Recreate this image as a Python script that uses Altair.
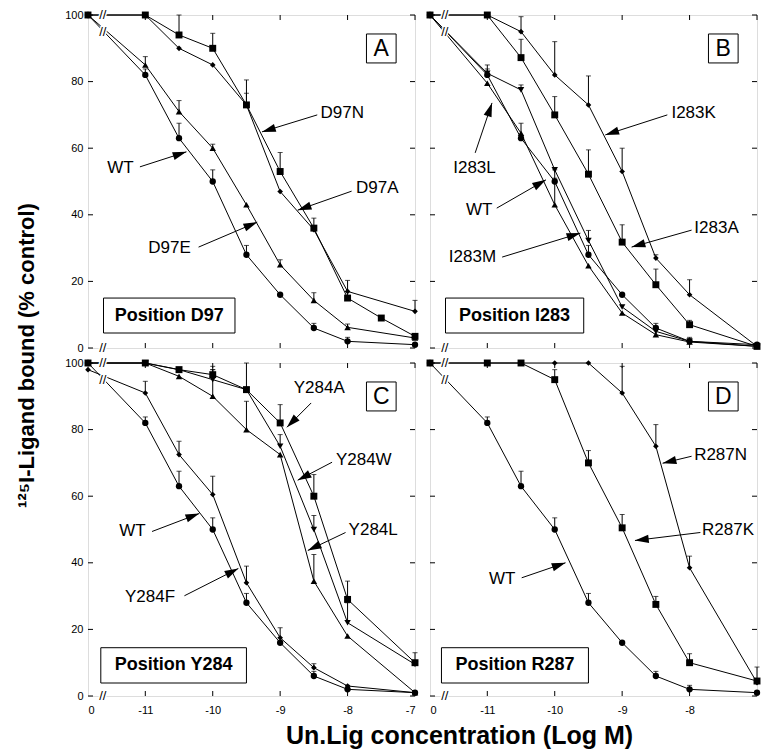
import math
import altair as alt
import pandas as pd

# ---------------- data ----------------
# log M of unlabeled ligand; 0 = control (no unlabeled ligand)
CONC = [0, -11, -10.5, -10, -9.5, -9, -8.5, -8, -7.5, -7]
X_TICKS = [-11, -10, -9, -8, -7]
Y_TICKS = [0, 20, 40, 60, 80, 100]

WT = [100, 82, 63, 50, 28, 16, 6, 2, None, 1]
WT_ERR = [0, 1.8, 4.5, 3.5, 2.8, 0, 1.4, 1.2, None, 0]

# Panel A: position D97
D97E = [100, 85, 71, 60, 43, 25, 14.3, 6.2, None, 3]
D97E_ERR = [0, 2.5, 3.3, 1.2, 0, 1.5, 2.3, 1, None, 0]
D97N = [100, 100, 94, 90, 73, 53, 36, 15, 9, 3.5]
D97N_ERR = [0, 0, 6, 4.5, 7.5, 5.7, 3, 5.3, 0, 0]
D97A = [100, 100, 90, 85, 73, 47, 35.5, 17, None, 11]
D97A_ERR = [0, 0, 0, 0, 3.5, 0, 0, 0, None, 3.3]

# Panel B: position I283
I283L = [100, 79.5, 64.5, 43, 24.7, 10.5, 4, 1.8, None, 0.5]
I283L_ERR = [0, 0, 0, 8, 0, 0, 0, 0, None, 0]
I283M = [100, 82.5, 77.5, 53.5, 32.3, 12.3, 5, 2, None, 0.5]
I283M_ERR = [0, 2.5, 1.5, 0, 3, 0, 0, 0.8, None, 0]
I283A = [100, 100, 87.2, 70, 52.2, 31.8, 19, 7, None, 0.5]
I283A_ERR = [0, 0, 5.5, 5.5, 7.3, 5.2, 4.7, 1.3, None, 0]
I283K = [100, 100, 95, 82, 73, 53, 27, 16, None, 0.5]
I283K_ERR = [0, 0, 4.5, 10, 8.7, 7, 1, 4.5, None, 0]

# Panel C: position Y284
Y284F = [98, 91, 72.5, 60.5, 34, 17.5, 8.5, 3, None, 1]
Y284F_ERR = [0, 3.5, 4, 5.5, 5, 3, 1.2, 0, None, 0]
Y284A = [100, 100, 98, 96.5, 92, 82, 60, 29, None, 10]
Y284A_ERR = [0, 0, 0, 2.5, 8, 5.5, 6.5, 5.5, None, 3]
Y284W = [100, 100, 98, 95, 92, 75, 50, 22, None, 9.5]
Y284W_ERR = [0, 0, 0, 3, 0, 3.5, 4.2, 6, None, 0]
Y284L = [100, 100, 96, 90, 80, 72.5, 34.5, 18, None, 1]
Y284L_ERR = [0, 0, 0, 8, 8.5, 0, 8, 0, None, 0]

# Panel D: position R287
R287K = [100, 100, 100, 95, 70, 50.5, 27.5, 10, None, 4.5]
R287K_ERR = [0, 0, 0, 3, 3.7, 4, 2.4, 2.7, None, 0]
R287N = [100, 100, 100, 100, 100, 91, 75, 38.5, None, 4]
R287N_ERR = [0, 0, 0, 0, 0, 8, 6.5, 3.5, None, 4.7]

PANEL_KEYS = ["A", "B", "C", "D"]
PANEL_NAMES = ["Position D97", "Position I283", "Position Y284", "Position R287"]

SERIES = {
    "A": [("WT", WT, WT_ERR, "circle"), ("D97E", D97E, D97E_ERR, "triangle-up"),
          ("D97N", D97N, D97N_ERR, "square"), ("D97A", D97A, D97A_ERR, "diamond")],
    "B": [("WT", WT, WT_ERR, "circle"), ("I283L", I283L, I283L_ERR, "triangle-up"),
          ("I283M", I283M, I283M_ERR, "triangle-down"), ("I283A", I283A, I283A_ERR, "square"),
          ("I283K", I283K, I283K_ERR, "diamond")],
    "C": [("WT", WT, WT_ERR, "circle"), ("Y284F", Y284F, Y284F_ERR, "diamond"),
          ("Y284A", Y284A, Y284A_ERR, "square"), ("Y284W", Y284W, Y284W_ERR, "triangle-down"),
          ("Y284L", Y284L, Y284L_ERR, "triangle-up")],
    "D": [("WT", WT, WT_ERR, "circle"), ("R287K", R287K, R287K_ERR, "square"),
          ("R287N", R287N, R287N_ERR, "diamond")],
}

# annotation labels: text, text x/y, arrow start x/y, arrow tip x/y (data units)
LABELS = {
    "A": [("D97N", -8.08, 70.6, -8.45, 70.0, -9.27, 64.9),
          ("D97A", -7.56, 48.0, -7.94, 47.1, -8.74, 41.4),
          ("WT", -11.37, 54.0, -11.08, 54.4, -10.39, 58.9),
          ("D97E", -10.64, 30.0, -10.21, 30.3, -9.34, 37.8)],
    "B": [("I283K", -7.94, 70.6, -8.33, 70.0, -9.25, 64.0),
          ("I283A", -7.60, 36.0, -7.97, 35.4, -8.86, 30.3),
          ("I283L", -11.19, 54.0, -11.18, 58.6, -10.93, 73.6),
          ("WT", -11.12, 41.4, -10.86, 42.0, -10.13, 50.5),
          ("I283M", -11.22, 27.3, -10.78, 27.3, -9.62, 34.5)],
    "C": [("Y284A", -8.42, 92.5, -8.54, 88.0, -8.90, 80.7),
          ("Y284W", -7.76, 70.8, -8.23, 70.2, -8.74, 64.8),
          ("Y284L", -7.62, 49.7, -8.03, 49.1, -8.59, 43.7),
          ("WT", -11.19, 49.4, -10.90, 49.4, -10.20, 54.8),
          ("Y284F", -10.93, 29.8, -10.42, 30.1, -9.62, 38.3)],
    "D": [("R287N", -7.54, 72.3, -7.97, 72.0, -8.40, 69.9),
          ("R287K", -7.43, 49.7, -7.84, 49.1, -8.81, 46.7),
          ("WT", -10.78, 35.2, -10.49, 35.5, -9.84, 40.0)],
}
# "Position ..." boxes: x1, x2, y1, y2 (data units)
POS_BOX = {"A": (-11.62, -9.67, 15.0, 4.5), "B": (-11.62, -9.57, 15.0, 4.5),
           "C": (-11.66, -9.50, 14.5, 3.9), "D": (-11.68, -9.50, 14.5, 3.9)}
LETTER_BOX = (-7.72, -7.28, 94.3, 85.6)

# ---------------- layout / style ----------------
CTRL_POS = -11.85        # where the control ("0") sits on the broken axis
BREAK_X = -11.63
W, H = 327, 333
PX = W / (-7 - CTRL_POS)
PY = H / 100.0
FONT = "Liberation Sans"
SIZES = {"circle": 40, "square": 48, "triangle-up": 42, "triangle-down": 42, "diamond": 32}
ARROW = "M0,0L-0.3,1L0.3,1Z"

xs = alt.Scale(domain=[CTRL_POS, -7], nice=False, zero=False)
ys = alt.Scale(domain=[0, 100], nice=False, zero=False)


def panel(key, bottom, left):
    rows = []
    for name, vals, errs, shp in SERIES[key]:
        for c, v, e in zip(CONC, vals, errs):
            if v is None:
                continue
            rows.append({"series": name, "x": CTRL_POS if c == 0 else c, "y": v,
                         "err": e, "ytop": v + e, "shape": shp, "size": SIZES[shp]})
    df = pd.DataFrame(rows)
    edf = df[df.err > 0]

    if bottom:
        xvals = [CTRL_POS] + (X_TICKS if left else X_TICKS[:-1])
        xaxis = alt.Axis(values=xvals,
                         labelExpr="datum.value < -11.5 ? '0' : '-' + abs(datum.value)",
                         ticks=False, domain=False, grid=False, labelFont=FONT,
                         labelFontSize=11, labelPadding=8, labelColor="black",
                         title="Un.Lig concentration (Log M)" if left else None,
                         titleFont=FONT, titleFontSize=25, titleFontWeight="bold",
                         titleX=371, titleY=39, titleAlign="center", titleBaseline="middle")
    else:
        xaxis = None
    if left:
        yaxis = alt.Axis(values=Y_TICKS, ticks=False, domain=False, grid=False,
                         labelFont=FONT, labelFontSize=11, labelPadding=5, labelColor="black",
                         title="¹²⁵I-Ligand bound (% control)" if key == "A" else None,
                         titleFont=FONT, titleFontSize=22, titleFontWeight="bold",
                         titleX=-62, titleY=340, titleAngle=270,
                         titleAlign="center", titleBaseline="middle")
    else:
        yaxis = None

    X = lambda f="x": alt.X(f + ":Q", scale=xs, axis=xaxis)
    Y = lambda f="y": alt.Y(f + ":Q", scale=ys, axis=yaxis)

    lines = alt.Chart(df).mark_line(color="black", strokeWidth=1).encode(
        x=X(), y=Y(), detail="series:N")
    pts = alt.Chart(df).mark_point(filled=True, color="black", opacity=1).encode(
        x=X(), y=Y(), shape=alt.Shape("shape:N", scale=None),
        size=alt.Size("size:Q", scale=None))
    ebar = alt.Chart(edf).mark_rule(color="black", strokeWidth=1).encode(
        x=X(), y=Y(), y2="ytop:Q")
    ecap = alt.Chart(edf).mark_tick(color="black", orient="horizontal", size=5,
                                    thickness=1).encode(x=X(), y=Y("ytop"))

    # inward ticks on all four sides
    xt = pd.DataFrame({"x": X_TICKS})
    yt = pd.DataFrame({"y": Y_TICKS})
    tb = alt.Chart(xt).mark_rule(color="black").encode(x=X(), y=alt.value(H), y2=alt.value(H - 5))
    tt = alt.Chart(xt).mark_rule(color="black").encode(x=X(), y=alt.value(0), y2=alt.value(5))
    tl = alt.Chart(yt).mark_rule(color="black").encode(y=Y(), x=alt.value(0), x2=alt.value(5))
    tr = alt.Chart(yt).mark_rule(color="black").encode(y=Y(), x=alt.value(W - 5), x2=alt.value(W))

    # axis breaks
    brk = pd.DataFrame({"x": [BREAK_X, BREAK_X, BREAK_X], "y": [100, 0, 95.0]})
    brk_bg = alt.Chart(brk).mark_text(text="//", font=FONT, fontSize=13, stroke="white",
                                      strokeWidth=3, fill="white").encode(x=X(), y=Y())
    brk_fg = alt.Chart(brk).mark_text(text="//", font=FONT, fontSize=13,
                                      color="black").encode(x=X(), y=Y())

    # annotations
    lab = pd.DataFrame([{"label": t, "x": tx, "y": ty, "x1": sx, "y1": sy, "xh": hx, "yh": hy,
                         "ang": math.degrees(math.atan2((hx - sx) * PX, (hy - sy) * PY)) % 360}
                        for t, tx, ty, sx, sy, hx, hy in LABELS[key]])
    ltxt = alt.Chart(lab).mark_text(font=FONT, fontSize=17, color="black",
                                    align="center", baseline="middle").encode(
        x=X(), y=Y(), text="label:N")
    lline = alt.Chart(lab).mark_rule(color="black", strokeWidth=1).encode(
        x=X("x1"), y=Y("y1"), x2="xh:Q", y2="yh:Q")
    lhead = alt.Chart(lab).mark_point(shape=ARROW, filled=True, color="black", opacity=1,
                                      size=760).encode(
        x=X("xh"), y=Y("yh"), angle=alt.Angle("ang:Q", scale=None))

    bx = POS_BOX[key]
    i = PANEL_KEYS.index(key)
    boxes = pd.DataFrame([
        {"x": bx[0], "x2": bx[1], "y": bx[2], "y2": bx[3], "t": PANEL_NAMES[i],
         "cx": (bx[0] + bx[1]) / 2, "cy": (bx[2] + bx[3]) / 2, "kind": "pos"},
        {"x": LETTER_BOX[0], "x2": LETTER_BOX[1], "y": LETTER_BOX[2], "y2": LETTER_BOX[3],
         "t": key, "cx": (LETTER_BOX[0] + LETTER_BOX[1]) / 2,
         "cy": (LETTER_BOX[2] + LETTER_BOX[3]) / 2, "kind": "letter"},
    ])
    brect = alt.Chart(boxes).mark_rect(fill="white", stroke="black", strokeWidth=1).encode(
        x=X(), x2="x2:Q", y=Y(), y2="y2:Q")
    ptxt = alt.Chart(boxes).transform_filter(alt.datum.kind == "pos").mark_text(
        font=FONT, fontSize=18, fontWeight="bold", color="black",
        align="center", baseline="middle").encode(x=X("cx"), y=Y("cy"), text="t:N")
    ltr = alt.Chart(boxes).transform_filter(alt.datum.kind == "letter").mark_text(
        font=FONT, fontSize=23, color="black", align="center", baseline="middle",
        dy=1).encode(x=X("cx"), y=Y("cy"), text="t:N")

    return alt.layer(lines, ebar, ecap, pts, tb, tt, tl, tr, brk_bg, brk_fg,
                     lline, lhead, ltxt, brect, ptxt, ltr).properties(width=W, height=H)


chart = alt.concat(
    panel("A", bottom=False, left=True),
    panel("B", bottom=False, left=False),
    panel("C", bottom=True, left=True),
    panel("D", bottom=True, left=False),
    columns=2, spacing=15, bounds="flush",
).properties(
    padding={"left": 6, "top": 0, "right": 0, "bottom": 0}
).configure_view(stroke="black", strokeWidth=1.2).configure(background="white")

chart.save("out.html", embed_options={"renderer": "svg", "actions": False})
